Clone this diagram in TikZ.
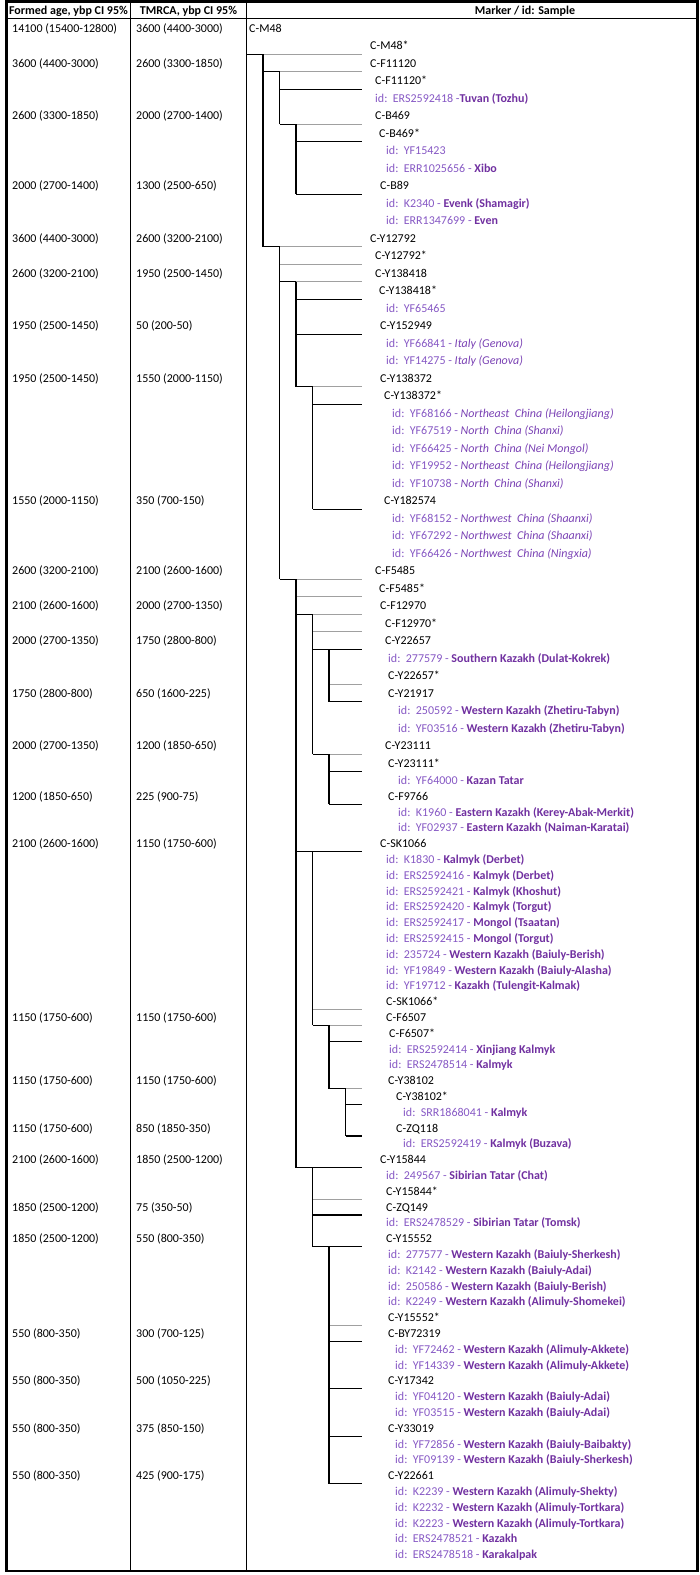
\documentclass[tikz,border=0pt]{standalone}
\usepackage{fontspec}
\setmainfont{Carlito}
\usepackage{tikz}
\definecolor{idpurple}{RGB}{134,88,196}
\definecolor{itpurple}{RGB}{122,66,180}
\definecolor{poppurple}{RGB}{112,48,160}
\definecolor{branchgray}{RGB}{160,160,160}
\newcommand{\sid}[2]{\textcolor{idpurple}{id:\hspace{0.45em}#1 - }\textcolor{poppurple}{\bfseries #2}}
\newcommand{\sidit}[2]{\textcolor{idpurple}{id:\hspace{0.45em}#1 - }\textcolor{itpurple}{\itshape #2}}
\newcommand{\sidonly}[1]{\textcolor{idpurple}{id:\hspace{0.45em}#1}}
\newcommand{\hblk}[2]{\draw[blk] (#1,#2) -- (362,#2);}
\newcommand{\hgry}[2]{\draw[gry] (#1,#2) -- (362,#2);}
\newcommand{\hint}[3]{\draw[gry] (#2,#3) -- (362,#3); \draw[blk] (#1,#3) -- (#2,#3);}
\newcommand{\vlin}[3]{\draw[blk] (#1,#2) -- (#1,#3);}
\tikzset{
  every node/.style={font=\fontsize{12}{14}\selectfont},
  txt/.style={anchor=base west, inner sep=0pt, yshift=-4pt},
  hdr/.style={anchor=base, inner sep=0pt, yshift=-4pt, font=\fontsize{12}{14}\selectfont\bfseries},
  blk/.style={line width=1.1pt, black},
  gry/.style={line width=1pt, branchgray},
}

\begin{document}
\begin{tikzpicture}[x=1pt, y=-1pt]
	\useasboundingbox (0,0) rectangle (700,1575);
	%%%%% TABLE %%%%%
	\draw[line width=2.2pt] (6.5,1.5) rectangle (697.5,1571);
	\draw[line width=1.6pt] (6.5,18.5) -- (697.5,18.5);
	\draw[line width=1pt] (130.5,1.5) -- (130.5,1571);
	\draw[line width=1pt] (246.5,1.5) -- (246.5,1571);
	
	\node[hdr] (h1) at (68.5,10.5) {Formed age, ybp CI 95\%};
	\node[hdr] (h2) at (188.5,10.5) {TMRCA, ybp CI 95\%};
	\node[hdr] (h3) at (525,10.5) {Marker / id: Sample};
	
	%%%%% AGES %%%%%
	\node[txt] (fa1) at (12,28) {14100 (15400-12800)};       \node[txt] (ta1) at (136,28) {3600 (4400-3000)};
	\node[txt] (fa2) at (12,63) {3600 (4400-3000)};          \node[txt] (ta2) at (136,63) {2600 (3300-1850)};
	\node[txt] (fa3) at (12,115.5) {2600 (3300-1850)};       \node[txt] (ta3) at (136,115.5) {2000 (2700-1400)};
	\node[txt] (fa4) at (12,185.5) {2000 (2700-1400)};       \node[txt] (ta4) at (136,185.5) {1300 (2500-650)};
	\node[txt] (fa5) at (12,238) {3600 (4400-3000)};         \node[txt] (ta5) at (136,238) {2600 (3200-2100)};
	\node[txt] (fa6) at (12,273) {2600 (3200-2100)};         \node[txt] (ta6) at (136,273) {1950 (2500-1450)};
	\node[txt] (fa7) at (12,325.5) {1950 (2500-1450)};       \node[txt] (ta7) at (136,325.5) {50 (200-50)};
	\node[txt] (fa8) at (12,378) {1950 (2500-1450)};         \node[txt] (ta8) at (136,378) {1550 (2000-1150)};
	\node[txt] (fa9) at (12,500.5) {1550 (2000-1150)};       \node[txt] (ta9) at (136,500.5) {350 (700-150)};
	\node[txt] (fa10) at (12,570.5) {2600 (3200-2100)};      \node[txt] (ta10) at (136,570.5) {2100 (2600-1600)};
	\node[txt] (fa11) at (12,605.5) {2100 (2600-1600)};      \node[txt] (ta11) at (136,605.5) {2000 (2700-1350)};
	\node[txt] (fa12) at (12,640.5) {2000 (2700-1350)};      \node[txt] (ta12) at (136,640.5) {1750 (2800-800)};
	\node[txt] (fa13) at (12,693) {1750 (2800-800)};         \node[txt] (ta13) at (136,693) {650 (1600-225)};
	\node[txt] (fa14) at (12,745.5) {2000 (2700-1350)};      \node[txt] (ta14) at (136,745.5) {1200 (1850-650)};
	\node[txt] (fa15) at (12,796.3) {1200 (1850-650)};       \node[txt] (ta15) at (136,796.3) {225 (900-75)};
	\node[txt] (fa16) at (12,843.7) {2100 (2600-1600)};      \node[txt] (ta16) at (136,843.7) {1150 (1750-600)};
	\node[txt] (fa17) at (12,1017.5) {1150 (1750-600)};      \node[txt] (ta17) at (136,1017.5) {1150 (1750-600)};
	\node[txt] (fa18) at (12,1080.7) {1150 (1750-600)};      \node[txt] (ta18) at (136,1080.7) {1150 (1750-600)};
	\node[txt] (fa19) at (12,1128.1) {1150 (1750-600)};      \node[txt] (ta19) at (136,1128.1) {850 (1850-350)};
	\node[txt] (fa20) at (12,1159.7) {2100 (2600-1600)};     \node[txt] (ta20) at (136,1159.7) {1850 (2500-1200)};
	\node[txt] (fa21) at (12,1207.1) {1850 (2500-1200)};     \node[txt] (ta21) at (136,1207.1) {75 (350-50)};
	\node[txt] (fa22) at (12,1238.7) {1850 (2500-1200)};     \node[txt] (ta22) at (136,1238.7) {550 (800-350)};
	\node[txt] (fa23) at (12,1333.5) {550 (800-350)};        \node[txt] (ta23) at (136,1333.5) {300 (700-125)};
	\node[txt] (fa24) at (12,1380.9) {550 (800-350)};        \node[txt] (ta24) at (136,1380.9) {500 (1050-225)};
	\node[txt] (fa25) at (12,1428.3) {550 (800-350)};        \node[txt] (ta25) at (136,1428.3) {375 (850-150)};
	\node[txt] (fa26) at (12,1475.7) {550 (800-350)};        \node[txt] (ta26) at (136,1475.7) {425 (900-175)};
	
	%%%%% TREE %%%%%
	\hint{247}{263}{54.25}
	\hint{263}{279.5}{71.75}
	\hblk{279.5}{89.25}
	\hint{279.5}{296}{124.25}
	\hblk{296}{141.75}
	\hblk{296}{194.25}
	\hint{263}{279.5}{246.75}
	\hgry{279.5}{264.25}
	\hint{279.5}{296}{281.75}
	\hblk{296}{299.25}
	\hblk{296}{334.25}
	\hint{296}{312.5}{386.75}
	\hblk{312.5}{404.25}
	\hblk{312.5}{509.25}
	\hint{279.5}{296}{579.25}
	\hgry{296}{596.75}
	\hint{296}{312.5}{614.25}
	\hgry{312.5}{631.75}
	\hblk{312.5}{649.25}
	\hgry{329}{684.25}
	\hblk{329}{701.75}
	\hint{312.5}{329}{754.25}
	\hblk{329}{771.75}
	\hblk{329}{804.2}
	\hblk{296}{851.6}
	\hgry{312.5}{1009.6}
	\hint{312.5}{329}{1025.4}
	\hblk{329}{1041.2}
	\hint{329}{345.5}{1088.6}
	\hblk{345.5}{1104.4}
	\hblk{345.5}{1136}
	\hblk{296}{1167.6}
	\hgry{312.5}{1199.2}
	\hblk{312.5}{1215}
	\hblk{312.5}{1246.6}
	\hgry{329}{1325.6}
	\hblk{329}{1341.4}
	\hblk{329}{1388.8}
	\hblk{329}{1436.2}
	\hblk{329}{1483.6}
	
	\vlin{263}{54.25}{246.75}
	\vlin{279.5}{71.75}{124.25}
	\vlin{296}{124.25}{194.25}
	\vlin{279.5}{246.75}{579.25}
	\vlin{296}{281.75}{386.75}
	\vlin{312.5}{386.75}{509.25}
	\vlin{296}{579.25}{1167.6}
	\vlin{312.5}{614.25}{754.25}
	\vlin{329}{649.25}{701.75}
	\vlin{329}{754.25}{804.2}
	\vlin{312.5}{851.6}{1025.4}
	\vlin{329}{1025.4}{1088.6}
	\vlin{345.5}{1088.6}{1136}
	\vlin{312.5}{1167.6}{1246.6}
	\vlin{329}{1246.6}{1483.6}
	
	%%%%% MARKERS / SAMPLES %%%%%
	\node[txt] (r1) at (249,28) {C-M48};
	\node[txt] (r2) at (370,45.5) {C-M48*};
	\node[txt] (r3) at (370,63) {C-F11120};
	\node[txt] (r4) at (375,80.5) {C-F11120*};
	\node[txt] (r5) at (375,98) {\textcolor{idpurple}{id:\hspace{0.45em}ERS2592418 -}\textcolor{poppurple}{\bfseries Tuvan (Tozhu)}};
	\node[txt] (r6) at (375,115.5) {C-B469};
	\node[txt] (r7) at (379,133) {C-B469*};
	\node[txt] (r8) at (386,150.5) {\sidonly{YF15423}};
	\node[txt] (r9) at (386,168) {\sid{ERR1025656}{Xibo}};
	\node[txt] (r10) at (380,185.5) {C-B89};
	\node[txt] (r11) at (386,203) {\sid{K2340}{Evenk (Shamagir)}};
	\node[txt] (r12) at (386,220.5) {\sid{ERR1347699}{Even}};
	\node[txt] (r13) at (370,238) {C-Y12792};
	\node[txt] (r14) at (375,255.5) {C-Y12792*};
	\node[txt] (r15) at (375,273) {C-Y138418};
	\node[txt] (r16) at (379,290.5) {C-Y138418*};
	\node[txt] (r17) at (386,308) {\sidonly{YF65465}};
	\node[txt] (r18) at (380,325.5) {C-Y152949};
	\node[txt] (r19) at (386,343) {\sidit{YF66841}{Italy (Genova)}};
	\node[txt] (r20) at (386,360.5) {\sidit{YF14275}{Italy (Genova)}};
	\node[txt] (r21) at (380,378) {C-Y138372};
	\node[txt] (r22) at (384,395.5) {C-Y138372*};
	\node[txt] (r23) at (392,413) {\sidit{YF68166}{Northeast\ \ China (Heilongjiang)}};
	\node[txt] (r24) at (392,430.5) {\sidit{YF67519}{North\ \ China (Shanxi)}};
	\node[txt] (r25) at (392,448) {\sidit{YF66425}{North\ \ China (Nei Mongol)}};
	\node[txt] (r26) at (392,465.5) {\sidit{YF19952}{Northeast\ \ China (Heilongjiang)}};
	\node[txt] (r27) at (392,483) {\sidit{YF10738}{North\ \ China (Shanxi)}};
	\node[txt] (r28) at (384,500.5) {C-Y182574};
	\node[txt] (r29) at (392,518) {\sidit{YF68152}{Northwest\ \ China (Shaanxi)}};
	\node[txt] (r30) at (392,535.5) {\sidit{YF67292}{Northwest\ \ China (Shaanxi)}};
	\node[txt] (r31) at (392,553) {\sidit{YF66426}{Northwest\ \ China (Ningxia)}};
	\node[txt] (r32) at (375,570.5) {C-F5485};
	\node[txt] (r33) at (379,588) {C-F5485*};
	\node[txt] (r34) at (380,605.5) {C-F12970};
	\node[txt] (r35) at (385,623) {C-F12970*};
	\node[txt] (r36) at (385,640.5) {C-Y22657};
	\node[txt] (r37) at (388,658) {\sid{277579}{Southern Kazakh (Dulat-Kokrek)}};
	\node[txt] (r38) at (388,675.5) {C-Y22657*};
	\node[txt] (r39) at (388,693) {C-Y21917};
	\node[txt] (r40) at (398,710.5) {\sid{250592}{Western Kazakh (Zhetiru-Tabyn)}};
	\node[txt] (r41) at (398,728) {\sid{YF03516}{Western Kazakh (Zhetiru-Tabyn)}};
	\node[txt] (r42) at (385,745.5) {C-Y23111};
	\node[txt] (r43) at (388,763) {C-Y23111*};
	\node[txt] (r44) at (398,780.5) {\sid{YF64000}{Kazan Tatar}};
	\node[txt] (r45) at (388,796.3) {C-F9766};
	\node[txt] (r46) at (398,812.1) {\sid{K1960}{Eastern Kazakh (Kerey-Abak-Merkit)}};
	\node[txt] (r47) at (398,827.9) {\sid{YF02937}{Eastern Kazakh (Naiman-Karatai)}};
	\node[txt] (r48) at (380,843.7) {C-SK1066};
	\node[txt] (r49) at (386,859.5) {\sid{K1830}{Kalmyk (Derbet)}};
	\node[txt] (r50) at (386,875.3) {\sid{ERS2592416}{Kalmyk (Derbet)}};
	\node[txt] (r51) at (386,891.1) {\sid{ERS2592421}{Kalmyk (Khoshut)}};
	\node[txt] (r52) at (386,906.9) {\sid{ERS2592420}{Kalmyk (Torgut)}};
	\node[txt] (r53) at (386,922.7) {\sid{ERS2592417}{Mongol (Tsaatan)}};
	\node[txt] (r54) at (386,938.5) {\sid{ERS2592415}{Mongol (Torgut)}};
	\node[txt] (r55) at (386,954.3) {\sid{235724}{Western Kazakh (Baiuly-Berish)}};
	\node[txt] (r56) at (386,970.1) {\sid{YF19849}{Western Kazakh (Baiuly-Alasha)}};
	\node[txt] (r57) at (386,985.9) {\sid{YF19712}{Kazakh (Tulengit-Kalmak)}};
	\node[txt] (r58) at (386,1001.7) {C-SK1066*};
	\node[txt] (r59) at (386,1017.5) {C-F6507};
	\node[txt] (r60) at (389,1033.3) {C-F6507*};
	\node[txt] (r61) at (389,1049.1) {\sid{ERS2592414}{Xinjiang Kalmyk}};
	\node[txt] (r62) at (389,1064.9) {\sid{ERS2478514}{Kalmyk}};
	\node[txt] (r63) at (388,1080.7) {C-Y38102};
	\node[txt] (r64) at (396,1096.5) {C-Y38102*};
	\node[txt] (r65) at (403,1112.3) {\sid{SRR1868041}{Kalmyk}};
	\node[txt] (r66) at (396,1128.1) {C-ZQ118};
	\node[txt] (r67) at (403,1143.9) {\sid{ERS2592419}{Kalmyk (Buzava)}};
	\node[txt] (r68) at (380,1159.7) {C-Y15844};
	\node[txt] (r69) at (386,1175.5) {\sid{249567}{Sibirian Tatar (Chat)}};
	\node[txt] (r70) at (386,1191.3) {C-Y15844*};
	\node[txt] (r71) at (386,1207.1) {C-ZQ149};
	\node[txt] (r72) at (386,1222.9) {\sid{ERS2478529}{Sibirian Tatar (Tomsk)}};
	\node[txt] (r73) at (386,1238.7) {C-Y15552};
	\node[txt] (r74) at (388,1254.5) {\sid{277577}{Western Kazakh (Baiuly-Sherkesh)}};
	\node[txt] (r75) at (388,1270.3) {\sid{K2142}{Western Kazakh (Baiuly-Adai)}};
	\node[txt] (r76) at (388,1286.1) {\sid{250586}{Western Kazakh (Baiuly-Berish)}};
	\node[txt] (r77) at (388,1301.9) {\sid{K2249}{Western Kazakh (Alimuly-Shomekei)}};
	\node[txt] (r78) at (388,1317.7) {C-Y15552*};
	\node[txt] (r79) at (388,1333.5) {C-BY72319};
	\node[txt] (r80) at (395,1349.3) {\sid{YF72462}{Western Kazakh (Alimuly-Akkete)}};
	\node[txt] (r81) at (395,1365.1) {\sid{YF14339}{Western Kazakh (Alimuly-Akkete)}};
	\node[txt] (r82) at (388,1380.9) {C-Y17342};
	\node[txt] (r83) at (395,1396.7) {\sid{YF04120}{Western Kazakh (Baiuly-Adai)}};
	\node[txt] (r84) at (395,1412.5) {\sid{YF03515}{Western Kazakh (Baiuly-Adai)}};
	\node[txt] (r85) at (388,1428.3) {C-Y33019};
	\node[txt] (r86) at (395,1444.1) {\sid{YF72856}{Western Kazakh (Baiuly-Baibakty)}};
	\node[txt] (r87) at (395,1459.9) {\sid{YF09139}{Western Kazakh (Baiuly-Sherkesh)}};
	\node[txt] (r88) at (388,1475.7) {C-Y22661};
	\node[txt] (r89) at (395,1491.5) {\sid{K2239}{Western Kazakh (Alimuly-Shekty)}};
	\node[txt] (r90) at (395,1507.3) {\sid{K2232}{Western Kazakh (Alimuly-Tortkara)}};
	\node[txt] (r91) at (395,1523.1) {\sid{K2223}{Western Kazakh (Alimuly-Tortkara)}};
	\node[txt] (r92) at (395,1538.9) {\sid{ERS2478521}{Kazakh}};
	\node[txt] (r93) at (395,1554.7) {\sid{ERS2478518}{Karakalpak}};
\end{tikzpicture}
\end{document}
